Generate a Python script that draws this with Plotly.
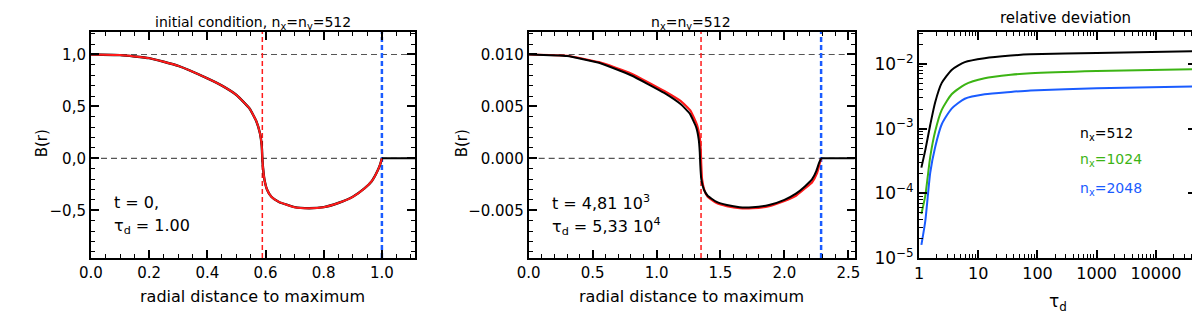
import plotly.graph_objects as go

# ---- panel 1: initial condition ----
r1 = [0.0, 0.1, 0.2, 0.3, 0.4, 0.45, 0.5, 0.545, 0.568, 0.581, 0.587, 0.589,
      0.591, 0.596, 0.605, 0.62, 0.646, 0.70, 0.75, 0.80, 0.85, 0.90, 0.94,
      0.965, 0.985, 0.995, 1.0]
b1 = [1.0, 0.994, 0.965, 0.89, 0.77, 0.70, 0.61, 0.48, 0.36, 0.24, 0.12, 0.0,
      -0.08, -0.20, -0.30, -0.37, -0.42, -0.47, -0.48, -0.47, -0.43, -0.37, -0.29,
      -0.22, -0.12, -0.05, 0.0]
r1_out = [1.0, 1.115]
b1_out = [0.0, 0.0]
p1_levels = [0.0, 1.0]
p1_core = 0.589
p1_edge = 1.0

# ---- panel 2: evolved state ----
r2 = [0.0, 0.3, 0.55, 0.8, 1.06, 1.19, 1.265, 1.317, 1.338, 1.346, 1.349, 1.356,
      1.375, 1.40, 1.47, 1.55, 1.65, 1.75, 1.88, 2.0, 2.09, 2.16, 2.217, 2.256,
      2.276, 2.287]
b2_red = [0.0100, 0.00988, 0.00926, 0.00818, 0.00648, 0.0055, 0.0046, 0.0032,
          0.0020, 0.0008, -0.0004, -0.0020, -0.0031, -0.0037, -0.0043, -0.0046,
          -0.0048, -0.0048, -0.0046, -0.0041, -0.0036, -0.0029, -0.0023, -0.0014,
          -0.0005, 0.0]
r2_blk = [0.0, 0.3, 0.55, 0.8, 1.06, 1.19, 1.26, 1.31, 1.33, 1.338, 1.342, 1.35,
          1.37, 1.40, 1.47, 1.55, 1.65, 1.75, 1.88, 2.0, 2.09, 2.16, 2.217, 2.25,
          2.272, 2.287]
b2_blk = [0.0100, 0.00985, 0.0092, 0.0080, 0.0063, 0.0052, 0.0043, 0.0030,
          0.0018, 0.0006, -0.0006, -0.0020, -0.0030, -0.0036, -0.0042, -0.0045,
          -0.0047, -0.0047, -0.0045, -0.0040, -0.0034, -0.0027, -0.0020, -0.0012,
          -0.0004, 0.0]
r2_out = [2.287, 2.55]
b2_out = [0.0, 0.0]
p2_levels = [0.0, 0.010]
p2_core = 1.348
p2_edge = 2.287

# ---- panel 3: relative deviation vs tau_d ----
tau = [1.094, 1.276, 1.545, 1.871, 2.415, 3.548, 5.92, 12.8, 35.5, 76.4, 1000, 47900]
dev_512 = [2.5e-4, 4.7e-4, 1.15e-3, 2.57e-3, 5.1e-3, 8.1e-3, 1.07e-2, 1.23e-2,
           1.35e-2, 1.41e-2, 1.48e-2, 1.58e-2]
dev_1024 = [4.8e-5, 9.3e-5, 3.7e-4, 9.1e-4, 1.95e-3, 3.4e-3, 4.8e-3, 6.0e-3,
            6.8e-3, 7.2e-3, 7.8e-3, 8.3e-3]
dev_2048 = [1.6e-5, 3.8e-5, 2.1e-4, 5.2e-4, 1.17e-3, 2.04e-3, 2.9e-3, 3.4e-3,
            3.7e-3, 3.9e-3, 4.2e-3, 4.5e-3]

FONT = "DejaVu Sans"
RED = "#ff1a1a"
BLUE = "#1a5cff"
GREEN = "#3cb414"

fig = go.Figure()

def hline(xr, yv, ax):
    fig.add_trace(go.Scatter(x=xr, y=[yv, yv], mode="lines", xaxis=ax[0], yaxis=ax[1],
                             line=dict(color="#555555", width=1.2, dash="6px,4px"),
                             showlegend=False, hoverinfo="skip"))

def vline(xv, yr, ax, color, width):
    fig.add_trace(go.Scatter(x=[xv, xv], y=yr, mode="lines", xaxis=ax[0], yaxis=ax[1],
                             line=dict(color=color, width=width, dash="5px,3px"),
                             showlegend=False, hoverinfo="skip"))

smooth = dict(shape="spline", smoothing=0.4)

# panel 1
a1 = ("x", "y")
for lv in p1_levels:
    hline([0, 1.115], lv, a1)
vline(p1_core, [-0.96, 1.22], a1, RED, 1.5)
vline(p1_edge, [-0.96, 1.22], a1, BLUE, 2.5)
fig.add_trace(go.Scatter(x=r1, y=b1, mode="lines", line=dict(color="black", width=2.4, **smooth),
                         showlegend=False))
fig.add_trace(go.Scatter(x=r1, y=b1, mode="lines", line=dict(color=RED, width=2, **smooth),
                         showlegend=False))
fig.add_trace(go.Scatter(x=r1_out, y=b1_out, mode="lines", line=dict(color="black", width=2),
                         showlegend=False))

# panel 2
a2 = ("x2", "y2")
for lv in p2_levels:
    hline([0, 2.55], lv, a2)
vline(p2_core, [-0.0096, 0.0122], a2, RED, 1.5)
vline(p2_edge, [-0.0096, 0.0122], a2, BLUE, 2.5)
fig.add_trace(go.Scatter(x=r2, y=b2_red, mode="lines", xaxis="x2", yaxis="y2",
                         line=dict(color=RED, width=2.2, **smooth), showlegend=False))
fig.add_trace(go.Scatter(x=r2_blk, y=b2_blk, mode="lines", xaxis="x2", yaxis="y2",
                         line=dict(color="black", width=2, **smooth), showlegend=False))
fig.add_trace(go.Scatter(x=r2_out, y=b2_out, mode="lines", xaxis="x2", yaxis="y2",
                         line=dict(color="black", width=2), showlegend=False))

# panel 3
for dev, col in [(dev_512, "black"), (dev_1024, GREEN), (dev_2048, BLUE)]:
    fig.add_trace(go.Scatter(x=tau, y=dev, mode="lines", xaxis="x3", yaxis="y3",
                             line=dict(color=col, width=2, shape="spline", smoothing=0.6),
                             showlegend=False))

axis_common = dict(showline=True, linecolor="black", linewidth=2, mirror="allticks",
                   ticks="inside", ticklen=8, tickwidth=1.5, tickcolor="black",
                   showgrid=False, zeroline=False,
                   tickfont=dict(family=FONT, size=15, color="black"))
minor_common = dict(ticks="inside", ticklen=4, tickwidth=1, tickcolor="black", showgrid=False)

ytop, ybot = 0.924, 0.196
fig.update_layout(
    width=1200, height=321,
    margin=dict(l=0, r=0, t=0, b=0),
    plot_bgcolor="white", paper_bgcolor="white",
    font=dict(family=FONT, color="black"),
    xaxis=dict(axis_common, domain=[0.06, 0.3342], range=[0, 1.115], anchor="y",
               tickvals=[0, 0.2, 0.4, 0.6, 0.8, 1.0], ticktext=["0.0", "0.2", "0.4", "0.6", "0.8", "1.0"],
               minor=dict(minor_common, dtick=0.05, tick0=0)),
    yaxis=dict(axis_common, domain=[ybot, ytop], range=[-0.96, 1.22], anchor="x",
               tickvals=[-0.5, 0, 0.5, 1.0], ticktext=["\u22120,5", "0,0", "0,5", "1,0"],
               minor=dict(minor_common, dtick=0.1, tick0=0)),
    xaxis2=dict(axis_common, domain=[0.43, 0.7056], range=[0, 2.55], anchor="y2",
                tickvals=[0, 0.5, 1.0, 1.5, 2.0, 2.5], ticktext=["0.0", "0.5", "1.0", "1.5", "2.0", "2.5"],
                minor=dict(minor_common, dtick=0.1, tick0=0)),
    yaxis2=dict(axis_common, domain=[ybot, ytop], range=[-0.0096, 0.0122], anchor="x2",
                tickvals=[-0.005, 0, 0.005, 0.010], ticktext=["\u22120.005", "0.000", "0.005", "0.010"],
                minor=dict(minor_common, dtick=0.001, tick0=0)),
    xaxis3=dict(axis_common, domain=[0.76, 0.9942], type="log", range=[0, 4.68], anchor="y3",
                tickvals=[1, 10, 100, 1000, 10000], ticktext=["1", "10", "100", "1000", "10000"],
                tickfont=dict(family=FONT, size=16, color="black"),
                minor=dict(minor_common, dtick="D1")),
    yaxis3=dict(axis_common, domain=[ybot, ytop], type="log", range=[-5, -1.5], anchor="x3",
                tickvals=[1e-5, 1e-4, 1e-3, 1e-2],
                ticktext=["10<sup>\u22125</sup>", "10<sup>\u22124</sup>", "10<sup>\u22123</sup>", "10<sup>\u22122</sup>"],
                tickfont=dict(family=FONT, size=17, color="black"),
                minor=dict(minor_common, dtick="D1")),
)

ann = []
def txt(x, y, s, size=14, color="black", xanchor="center", angle=0):
    ann.append(dict(x=x, y=y, xref="paper", yref="paper", text=s, showarrow=False,
                    xanchor=xanchor, yanchor="middle", textangle=angle,
                    font=dict(family=FONT, size=size, color=color)))

H, W = 321.0, 1200.0
# titles
txt(236 / W, 1 - 15 / H, "initial condition, n<sub>x</sub>=n<sub>y</sub>=512", size=14)
txt(681 / W, 1 - 15 / H, "n<sub>x</sub>=n<sub>y</sub>=512", size=14)
txt(1061 / W, 1 - 10 / H, "relative deviation", size=15)
# axis titles
txt(236 / W, 1 - 298 / H, "radial distance to maximum", size=16)
txt(681 / W, 1 - 298 / H, "radial distance to maximum", size=16)
txt(1053 / W, 1 - 304 / H, "\u03c4<sub>d</sub>", size=17)
txt(22 / W, 1 - 140 / H, "B(r)", size=15, angle=-90)
txt(448 / W, 1 - 140 / H, "B(r)", size=15, angle=-90)
# in-panel notes
txt(93 / W, 1 - 201 / H, "t = 0,", size=16, xanchor="left")
txt(93 / W, 1 - 226 / H, "\u03c4<sub>d</sub> = 1.00", size=16, xanchor="left")
txt(538 / W, 1 - 201 / H, "t = 4,81 10<sup>3</sup>", size=16, xanchor="left")
txt(538 / W, 1 - 226 / H, "\u03c4<sub>d</sub> = 5,33 10<sup>4</sup>", size=16, xanchor="left")
txt(1073 / W, 1 - 130 / H, "n<sub>x</sub>=512", size=14, xanchor="left")
txt(1073 / W, 1 - 157 / H, "n<sub>x</sub>=1024", size=14, color=GREEN, xanchor="left")
txt(1073 / W, 1 - 187 / H, "n<sub>x</sub>=2048", size=14, color=BLUE, xanchor="left")
fig.update_layout(annotations=ann)

fig.write_html("out.html")
